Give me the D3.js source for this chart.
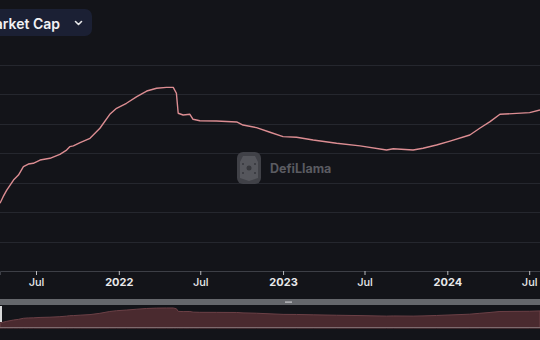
<!DOCTYPE html>
<html>
<head>
<meta charset="utf-8">
<script src="https://cdn.jsdelivr.net/npm/d3@7"></script>
<style>
  html, body { margin: 0; padding: 0; background: #131419; }
  svg { display: block; font-family: Inter, "Noto Sans", sans-serif; }
</style>
</head>
<body>
<div id="chart"></div>
<script>
// market cap (billions, approx)
const dates = [
  "2021-04-12", "2021-04-19", "2021-04-27", "2021-05-12", "2021-05-23", "2021-06-03",
  "2021-06-14", "2021-06-25", "2021-07-10", "2021-08-01", "2021-08-23", "2021-09-07",
  "2021-09-14", "2021-09-22", "2021-10-07", "2021-10-29", "2021-11-20", "2021-12-12",
  "2021-12-27", "2022-01-18", "2022-02-10", "2022-03-04", "2022-03-26", "2022-04-17",
  "2022-05-02", "2022-05-09", "2022-05-13", "2022-05-24", "2022-06-08", "2022-06-15",
  "2022-06-30", "2022-08-06", "2022-09-20", "2022-10-04", "2022-11-03", "2022-12-03",
  "2023-01-01", "2023-01-31", "2023-03-09", "2023-04-30", "2023-06-21", "2023-08-19",
  "2023-09-03", "2023-10-17", "2023-11-08", "2023-12-08", "2024-01-07", "2024-02-20",
  "2024-03-13", "2024-04-05", "2024-04-27", "2024-07-02", "2024-07-25"
];
const marketCap = [
  46.0, 50.5, 55.0, 61.8, 65.2, 70.9,
  72.7, 73.2, 75.4, 76.6, 79.3, 82.2,
  84.5, 85.0, 87.2, 90.2, 97.0, 106.5,
  110.6, 114.0, 118.5, 122.3, 124.2, 124.8,
  124.8, 120.8, 107.2, 106.0, 106.5, 103.1,
  102.1, 101.9, 101.3, 99.2, 97.4, 94.3,
  91.3, 90.9, 89.0, 86.8, 85.0, 82.2,
  83.1, 82.2, 83.4, 85.6, 88.3, 92.4,
  97.0, 101.5, 106.5, 107.6, 109.4
];
const tickDates = ["2021-07-01", "2022-01-01", "2022-07-01", "2023-01-01", "2023-07-01", "2024-01-01", "2024-07-01"];
const tickLabels = ["Jul", "2022", "Jul", "2023", "Jul", "2024", "Jul"];
const gridValues = [0, 20, 40, 60, 80, 100, 120, 140];

const width = 540;
const height = 340;
const parse = d3.utcParse("%Y-%m-%d");
const data = dates.map((d, i) => ({ date: parse(d), value: marketCap[i] }));

const svg = d3.select("#chart").append("svg")
    .attr("width", width)
    .attr("height", height);

const x = d3.scaleUtc()
    .domain([parse("2021-04-12"), parse("2024-07-25")])
    .range([0, width]);

const y = d3.scaleLinear().domain([0, 140]).range([271, 65]);

// gridlines
svg.append("g")
    .selectAll("line")
    .data(gridValues.slice(1))
    .enter()
    .append("line")
    .attr("x1", 0).attr("x2", width)
    .attr("y1", d => Math.round(y(d)) + 0.5)
    .attr("y2", d => Math.round(y(d)) + 0.5)
    .attr("stroke", "#25272e")
    .attr("stroke-width", 1);

// watermark
const wm = svg.append("g").attr("transform", "translate(237,152)").attr("opacity", 0.9);
wm.append("rect").attr("width", 24).attr("height", 32).attr("rx", 6).attr("fill", "#45464c");
wm.append("path").attr("d", "M6,4 L18,4 L21,10 L21,26 L12,29 L3,26 L3,10 Z").attr("fill", "#5d5e64");
wm.append("circle").attr("cx", 12).attr("cy", 16).attr("r", 2.5).attr("fill", "#3a3b40");
[[6, 12], [18, 12], [6, 21], [18, 21]].forEach(p => {
  wm.append("circle").attr("cx", p[0]).attr("cy", p[1]).attr("r", 1).attr("fill", "#3a3b40");
});
svg.append("text")
    .attr("x", 270).attr("y", 173)
    .attr("fill", "#5a5b61")
    .attr("font-size", 12.5)
    .attr("font-weight", 700)
    .text("DefiLlama");

// x axis
const xAxis = d3.axisBottom(x)
    .tickValues(tickDates.map(parse))
    .tickFormat((d, i) => tickLabels[i])
    .tickSize(4)
    .tickPadding(3);

const gx = svg.append("g")
    .attr("transform", "translate(0,271)")
    .call(xAxis);
gx.select(".domain").attr("stroke", "#3d3f46");
gx.selectAll(".tick line").attr("stroke", "#b8b9bd");
gx.selectAll(".tick text")
    .attr("fill", "#e8e8ea")
    .attr("font-size", 11)
    .attr("font-family", "Inter, sans-serif")
    .attr("font-weight", (d, i) => /\d/.test(tickLabels[i]) ? 700 : 500);

// main line
const line = d3.line()
    .x(d => x(d.date))
    .y(d => y(d.value));

svg.append("path")
    .datum(data)
    .attr("fill", "none")
    .attr("stroke", "#dc8d92")
    .attr("stroke-width", 1.4)
    .attr("stroke-linejoin", "round")
    .attr("d", line);

// brush / data zoom strip
svg.append("rect")
    .attr("x", 0).attr("y", 299)
    .attr("width", width).attr("height", 6)
    .attr("fill", "#65676c");
svg.append("rect")
    .attr("x", 285).attr("y", 301.5)
    .attr("width", 7).attr("height", 1.2)
    .attr("fill", "#c9cacd");

const yMini = d3.scaleLinear().domain([20, 130]).range([328, 307]);
const area = d3.area()
    .x(d => x(d.date))
    .y0(328)
    .y1(d => yMini(d.value));

svg.append("path")
    .datum(data)
    .attr("fill", "#4a2a2f")
    .attr("stroke", "#6b4046")
    .attr("stroke-width", 1)
    .attr("d", area);

svg.append("line")
    .attr("x1", 0).attr("x2", width)
    .attr("y1", 327.5).attr("y2", 327.5)
    .attr("stroke", "#7d6a6e")
    .attr("stroke-width", 1);

svg.append("rect")
    .attr("x", 0).attr("y", 306)
    .attr("width", 2).attr("height", 16)
    .attr("fill", "#d8d8da");

// title button
svg.append("rect")
    .attr("x", -20).attr("y", 9)
    .attr("width", 112).attr("height", 27)
    .attr("rx", 7)
    .attr("fill", "#1b2034");
svg.append("text")
    .attr("x", 60).attr("y", 29)
    .attr("text-anchor", "end")
    .attr("fill", "#f2f2f4")
    .attr("font-size", 14)
    .attr("font-weight", 600)
    .text("Market Cap");
svg.append("path")
    .attr("d", "M75.5,21.5 L78.5,24.5 L81.5,21.5")
    .attr("fill", "none")
    .attr("stroke", "#e8e8ea")
    .attr("stroke-width", 1.6)
    .attr("stroke-linecap", "round")
    .attr("stroke-linejoin", "round");
</script>
</body>
</html>
